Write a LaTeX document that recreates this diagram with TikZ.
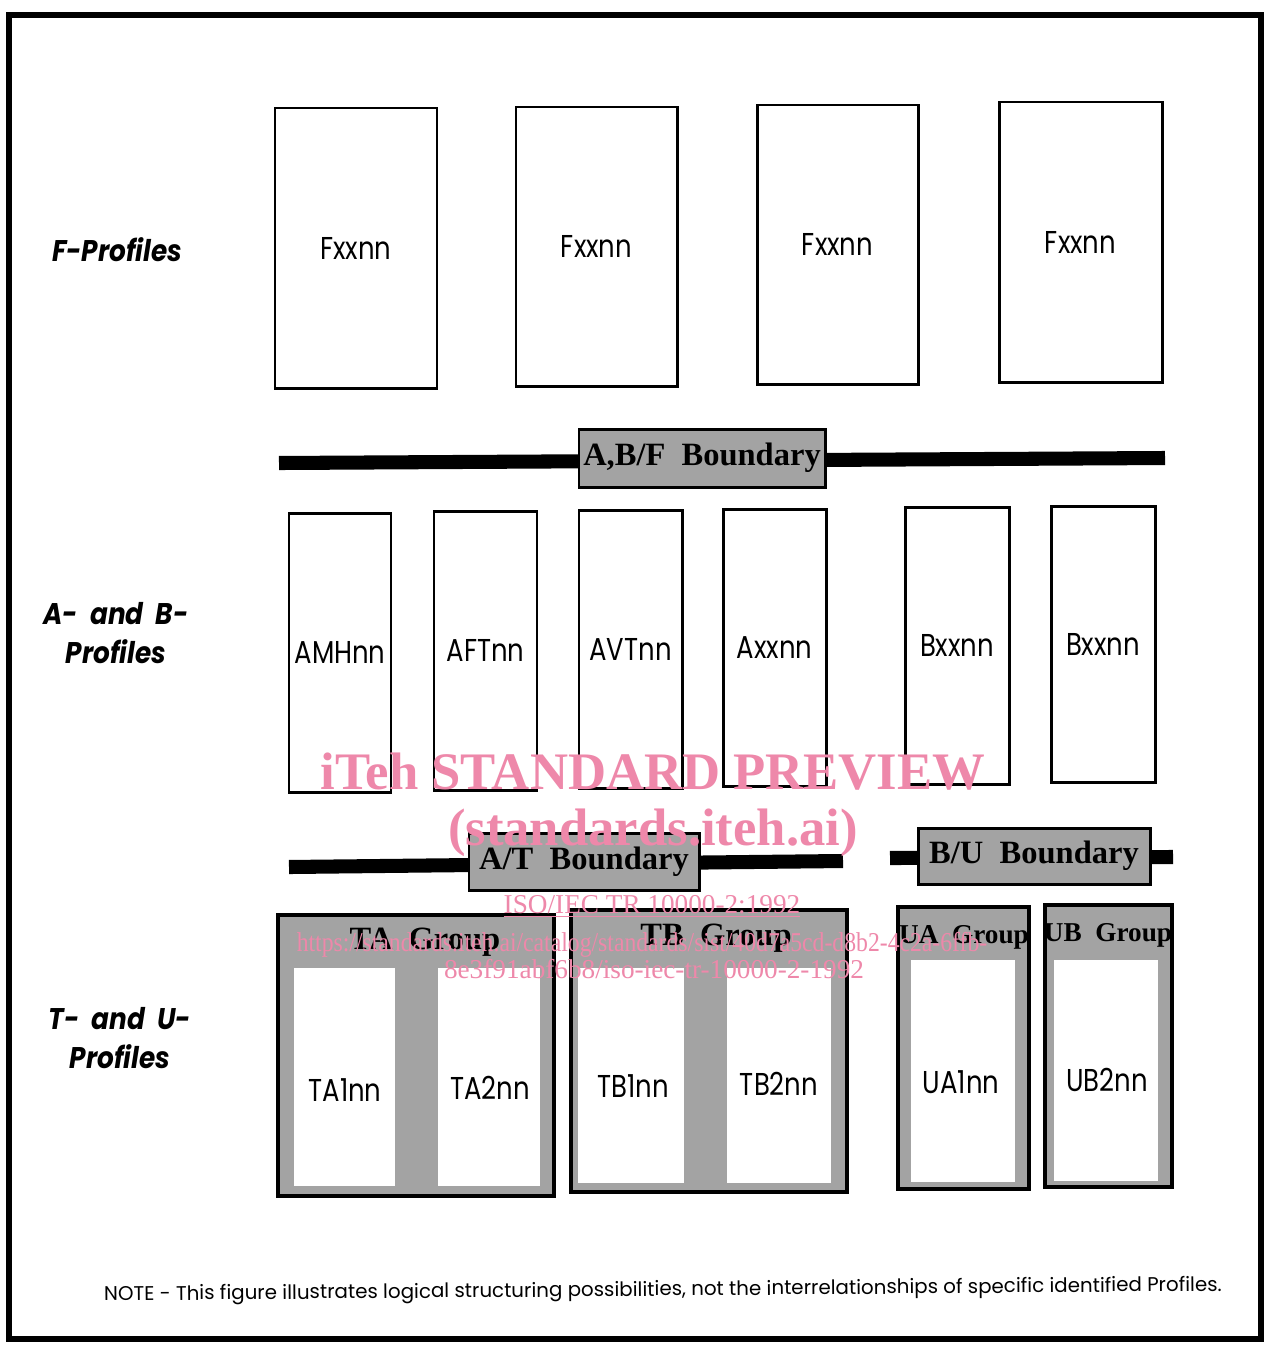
\documentclass[tikz,border=0pt]{standalone}
\usepackage{fontspec}
\usepackage{graphicx}
\usetikzlibrary{fit}
\newfontfamily\geo{Poppins}
\newfontfamily\bser{Liberation Serif}
\definecolor{wm}{RGB}{238,136,170}
\definecolor{stip}{gray}{0.64}
\newcommand\cx[1]{\scalebox{0.82}[1]{#1}}
\newcommand\sx[1]{\scalebox{0.88}[1]{#1}}
\begin{document}
\begin{tikzpicture}[x=0.02cm,y=-0.02cm,
  pbox/.style={draw=black, line width=1.7pt, inner sep=0pt, fill=white},
  gbox/.style={draw=black, line width=2.2pt, inner sep=0pt, fill=stip},
  wbox/.style={draw=none, inner sep=0pt, fill=white},
  bnd/.style={draw=black, line width=1.7pt, inner sep=0pt, fill=stip},
  bar/.style={line width=8pt, draw=black},
  plab/.style={font=\geo\fontsize{18}{20}\selectfont, inner sep=0pt},
  side/.style={font=\geo\bfseries\itshape\fontsize{17}{20}\selectfont, inner sep=0pt, align=center},
  blab/.style={font=\bser\bfseries\fontsize{18.5}{20}\selectfont, inner sep=0pt},
  slab/.style={font=\bser\bfseries\fontsize{15.5}{18}\selectfont, inner sep=0pt},
  wmb/.style={text=wm, font=\bser\bfseries\fontsize{30}{32}\selectfont, inner sep=0pt, anchor=base},
  wmr/.style={text=wm, font=\bser\fontsize{15.5}{18}\selectfont, inner sep=0pt, anchor=base},
  note/.style={font=\geo\fontsize{11.5}{13}\selectfont, inner sep=0pt}
]
\useasboundingbox (0,0) rectangle (1266,1346);
% outer frame
\draw[line width=3.4pt] (9,15) rectangle (1261,1339);

% side labels
\node[side] (lf) at (117,250) {\sx{F-Profiles}};
\node[side] (lab) at (116,633) {\sx{A-\ \ and\ \ B-}\\[2pt]\sx{Profiles}};
\node[side] (ltu) at (120,1038) {\sx{T-\ \ and\ \ U-}\\[2pt]\sx{Profiles}};

% F profiles
\node[pbox, fit={(275,108) (437,388)}] (f1) {};
\node[pbox, fit={(516,107) (677,386)}] (f2) {};
\node[pbox, fit={(757,105) (918,384)}] (f3) {};
\node[pbox, fit={(999,102) (1162,382)}] (f4) {};
\node[plab] (f1t) at (f1) {\cx{Fxxnn}};
\node[plab] (f2t) at (f2) {\cx{Fxxnn}};
\node[plab] (f3t) at (f3) {\cx{Fxxnn}};
\node[plab] (f4t) at (f4) {\cx{Fxxnn}};

% A,B/F boundary
\coordinate (abfL) at (279,463);
\coordinate (abfR) at (1165,458);
\draw[bar] (abfL) -- (abfR);
\node[bnd, fit={(579,429) (825,487)}] (abf) {};
\node[blab] (abft) at (abf) {A,B/F\ \ Boundary};

% A and B profiles
\node[pbox, fit={(289,513) (391,792)}] (a1) {};
\node[pbox, fit={(434,511) (537,790)}] (a2) {};
\node[pbox, fit={(579,510) (682,788)}] (a3) {};
\node[pbox, fit={(723,509) (826,786)}] (a4) {};
\node[pbox, fit={(905,507) (1009,784)}] (b1) {};
\node[pbox, fit={(1051,506) (1155,782)}] (b2) {};
\node[plab] (a1t) at (a1) {\cx{AMHnn}};
\node[plab] (a2t) at (a2) {\cx{AFTnn}};
\node[plab] (a3t) at (a3) {\cx{AVTnn}};
\node[plab] (a4t) at (a4) {\cx{Axxnn}};
\node[plab] (b1t) at (b1) {\cx{Bxxnn}};
\node[plab] (b2t) at (b2) {\cx{Bxxnn}};

% A/T boundary
\coordinate (atL) at (289,867);
\coordinate (atR) at (843,861);
\draw[bar] (atL) -- (atR);
\node[bnd, fit={(469,833) (699,890)}] (at) {};
\node[blab] (att) at (at) {A/T\ \ Boundary};

% B/U boundary
\coordinate (buL) at (890,858);
\coordinate (buR) at (1173,857);
\draw[bar] (buL) -- (buR);
\node[bnd, fit={(918,828) (1150,884)}] (bu) {};
\node[blab] (but) at (bu) {B/U\ \ Boundary};

% TA group
\node[gbox, fit={(278,915) (554,1196)}] (ta) {};
\node[wbox, fit={(294,968) (395,1186)}] (ta1) {};
\node[wbox, fit={(438,968) (540,1186)}] (ta2) {};
\node[blab] (tat) at (425,942) {TA\ \ Group};
\node[plab] (ta1t) at (345,1090) {\cx{TA1nn}};
\node[plab] (ta2t) at (490,1088) {\cx{TA2nn}};

% TB group
\node[gbox, fit={(571,910) (847,1192)}] (tb) {};
\node[wbox, fit={(578,968) (684,1183)}] (tb1) {};
\node[wbox, fit={(727,968) (831,1183)}] (tb2) {};
\node[blab] (tbt) at (716,938) {TB\ \ Group};
\node[plab] (tb1t) at (633,1086) {\cx{TB1nn}};
\node[plab] (tb2t) at (779,1084) {\cx{TB2nn}};

% UA group
\node[gbox, fit={(898,907) (1029,1189)}] (ua) {};
\node[wbox, fit={(911,960) (1015,1182)}] (ua1) {};
\node[slab] (uat) at (964,937) {UA\ \ Group};
\node[plab] (ua1t) at (961,1082) {\cx{UA1nn}};

% UB group
\node[gbox, fit={(1045,905) (1172,1187)}] (ub) {};
\node[wbox, fit={(1054,960) (1158,1181)}] (ub1) {};
\node[slab] (ubt) at (1108,935) {UB\ \ Group};
\node[plab] (ub1t) at (1107,1080) {\cx{UB2nn}};

% note
\node[note, rotate=0.5] (nt) at (663,1291) {\resizebox{22.36cm}{!}{NOTE - This figure illustrates logical structuring possibilities, not the interrelationships of specific identified Profiles.}};

% watermark
\node[wmb] (w1) at (653,789) {iTeh STANDARD PREVIEW};
\node[wmb] (w2) at (653,845) {(standards.iteh.ai)};
\node[wmr] (w3) at (652,913) {\underline{ISO/IEC TR 10000-2:1992}};
\node[wmr] (w4) at (642,951) {\scalebox{0.87}[1]{https://standards.iteh.ai/catalog/standards/sist/40d7a5cd-d8b2-4c2a-6ffb-}};
\node[wmr] (w5) at (654,978) {8e3f91abf6b8/iso-iec-tr-10000-2-1992};
\end{tikzpicture}
\end{document}
